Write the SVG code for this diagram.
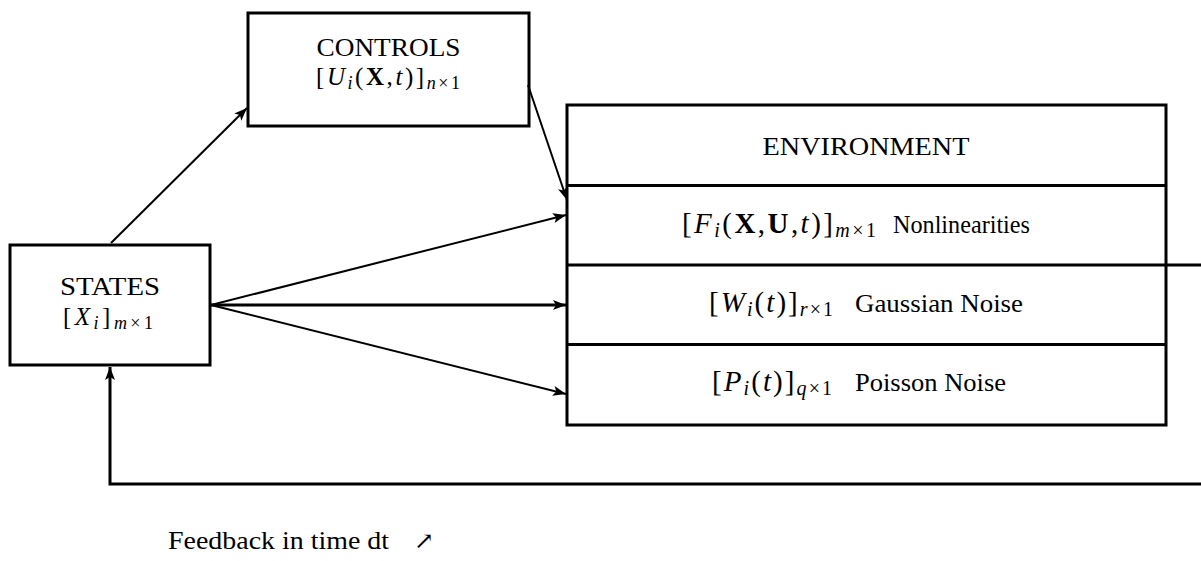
<svg xmlns="http://www.w3.org/2000/svg" width="1201" height="561" viewBox="0 0 1201 561">
  <style>
    .box { fill: #fff; stroke: #000; stroke-width: 3; }
    .div { stroke: #000; stroke-width: 3; fill: none; }
    .lbl { font-family: "Liberation Serif", "DejaVu Serif", serif; font-size: 25px; fill: #000; text-anchor: middle; }
    .txt { font-family: "Liberation Serif", "DejaVu Serif", serif; font-size: 25px; fill: #000; }
    .math { font-family: "Liberation Serif", "DejaVu Serif", serif; font-size: 29px; fill: #000; }
    .math.small { font-size: 25px; }
    .it { font-style: italic; }
    .bf { font-weight: bold; }
    .sub { font-size: 20px; }
    .small .sub { font-size: 18px; }
    .arr { stroke: #000; stroke-width: 2; fill: none; marker-end: url(#head); }
    .arr3 { stroke: #000; stroke-width: 3; fill: none; marker-end: url(#head); }
  </style>
  <defs>
    <marker id="head" markerUnits="userSpaceOnUse" viewBox="-14 -6 15 12" markerWidth="15" markerHeight="12" refX="0" refY="0" orient="auto">
      <path d="M0,0 L-13,-5 L-10,0 L-13,5 Z" fill="#000"/>
    </marker>
  </defs>
  <rect width="1201" height="561" fill="#fff"/>

  <!-- controls -->
  <g id="controls">
    <rect class="box" x="248" y="13" width="281" height="113"/>
    <text class="lbl" x="388.5" y="56" textLength="144" lengthAdjust="spacingAndGlyphs">CONTROLS</text>
    <text class="math small" x="316" y="85" textLength="144" lengthAdjust="spacing">[<tspan class="it">U</tspan><tspan class="sub it" dy="4">i</tspan><tspan dy="-4">(</tspan><tspan class="bf">X</tspan>,<tspan class="it">t</tspan>)]<tspan class="sub" dy="4"><tspan class="it">n</tspan>×1</tspan></text>
  </g>

  <!-- states -->
  <g id="states">
    <rect class="box" x="10" y="245" width="200" height="120"/>
    <text class="lbl" x="110" y="295" textLength="100" lengthAdjust="spacingAndGlyphs">STATES</text>
    <text class="math small" x="63" y="325" textLength="90" lengthAdjust="spacing">[<tspan class="it">X</tspan><tspan class="sub it" dy="4">i</tspan><tspan dy="-4">]</tspan><tspan class="sub" dy="4"><tspan class="it">m</tspan>×1</tspan></text>
  </g>

  <!-- environment with its four rows -->
  <g id="environment">
    <rect class="box" x="567" y="105" width="599" height="320"/>
    <line class="div" x1="567" y1="185.5" x2="1166" y2="185.5"/>
    <line class="div" x1="567" y1="265" x2="1166" y2="265"/>
    <line class="div" x1="567" y1="344.5" x2="1166" y2="344.5"/>
    <text class="lbl" x="866" y="155" textLength="207" lengthAdjust="spacingAndGlyphs">ENVIRONMENT</text>
  </g>
  <g id="nonlinearities">
    <text class="math" x="682" y="233" textLength="194" lengthAdjust="spacing">[<tspan class="it">F</tspan><tspan class="sub it" dy="4">i</tspan><tspan dy="-4">(</tspan><tspan class="bf">X</tspan>,<tspan class="bf">U</tspan>,<tspan class="it">t</tspan>)]<tspan class="sub" dy="4"><tspan class="it">m</tspan>×1</tspan></text>
    <text class="txt" x="893" y="233" textLength="137" lengthAdjust="spacingAndGlyphs">Nonlinearities</text>
  </g>
  <g id="gaussian-noise">
    <text class="math" x="709" y="312" textLength="124" lengthAdjust="spacing">[<tspan class="it">W</tspan><tspan class="sub it" dy="4">i</tspan><tspan dy="-4">(</tspan><tspan class="it">t</tspan>)]<tspan class="sub" dy="4"><tspan class="it">r</tspan>×1</tspan></text>
    <text class="txt" x="855" y="312" textLength="168" lengthAdjust="spacingAndGlyphs">Gaussian Noise</text>
  </g>
  <g id="poisson-noise">
    <text class="math" x="712" y="391" textLength="120" lengthAdjust="spacing">[<tspan class="it">P</tspan><tspan class="sub it" dy="4">i</tspan><tspan dy="-4">(</tspan><tspan class="it">t</tspan>)]<tspan class="sub" dy="4"><tspan class="it">q</tspan>×1</tspan></text>
    <text class="txt" x="855" y="391" textLength="151" lengthAdjust="spacingAndGlyphs">Poisson Noise</text>
  </g>

  <!-- connectors -->
  <g id="connectors">
    <line class="arr" x1="111" y1="243" x2="247" y2="108"/>
    <line class="arr" x1="528" y1="85" x2="567" y2="200"/>
    <line class="arr" x1="211" y1="305" x2="566" y2="215"/>
    <line class="arr3" x1="211" y1="305" x2="566" y2="305"/>
    <line class="arr" x1="211" y1="305" x2="566" y2="394"/>
    <line class="div" x1="1166" y1="265" x2="1201" y2="265"/>
    <polyline class="arr3" points="1201,484 110,484 110,367"/>
  </g>

  <!-- feedback caption -->
  <g id="feedback-label">
    <text class="txt" x="168" y="549" textLength="221" lengthAdjust="spacingAndGlyphs">Feedback in time dt</text>
    <text class="txt" x="414" y="549" style="font-size:24px">↗</text>
  </g>
</svg>
